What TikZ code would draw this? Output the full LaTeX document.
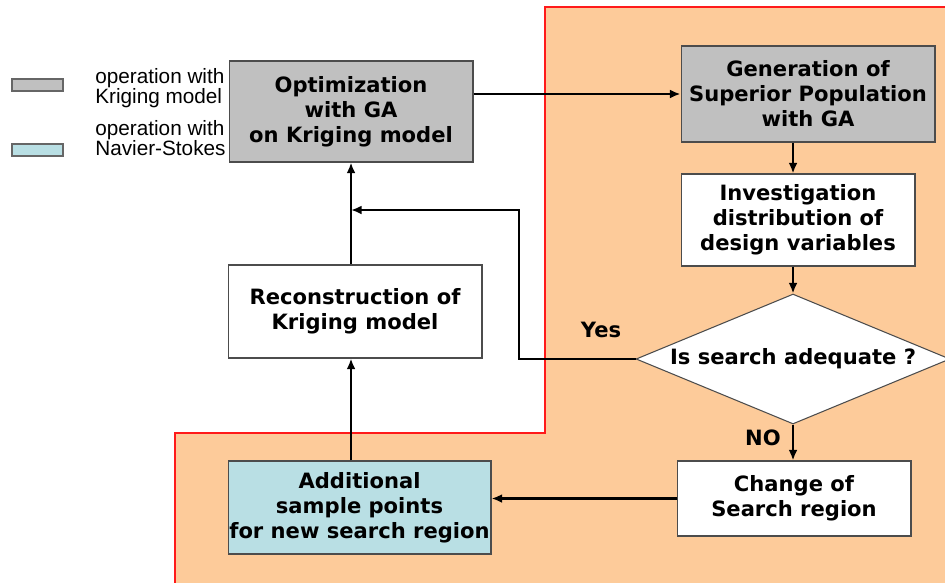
\documentclass[tikz,border=0pt]{standalone}
\usepackage{fontspec}
\setmainfont{DejaVu Sans}
\newfontfamily\legendFamily{Liberation Sans}
\usetikzlibrary{shapes.geometric}
\usetikzlibrary{arrows.meta}
\definecolor{regionFill}{HTML}{FDCB9A}
\definecolor{krigingGray}{HTML}{C0C0C0}
\definecolor{navierBlue}{HTML}{B9DFE4}
\definecolor{frameRed}{HTML}{FF1A1A}
\newcommand{\boxFont}{\fontsize{12}{14.2}\selectfont\bfseries}
\newcommand{\legendFont}{\legendFamily\fontsize{11.8}{11.5}\selectfont}

\begin{document}
\begin{tikzpicture}[%%
  x=0.02cm,y=-0.02cm,%%
  boxStyle/.style={draw=black!70,line width=0.6pt,rectangle,align=center,inner sep=0pt,font=\boxFont},%%
  krigingStyle/.style={boxStyle,fill=krigingGray},%%
  navierStyle/.style={boxStyle,fill=navierBlue},%%
  plainStyle/.style={boxStyle,fill=white},%%
  decisionStyle/.style={boxStyle,diamond,aspect=2.4,fill=white},%%
  arrowStyle/.style={-{Latex[length=6pt,width=5pt]},line width=1.3pt},%%
  legendStyle/.style={draw=black!60,line width=0.8pt},%%
  legendText/.style={anchor=west,align=left,inner sep=0pt,font=\legendFont},%%
  labelStyle/.style={inner sep=0pt,font=\boxFont}
]
\useasboundingbox (0,0) rectangle (945,582);
\clip (0,0) rectangle (945,582);
%%
%% The search region.
\fill[regionFill] (175,600) -- (175,433) -- (545,433) -- (545,7) -- (960,7) -- (960,600) -- cycle;
\draw[frameRed,line width=1.2pt] (175,600) -- (175,433) -- (545,433) -- (545,7) -- (960,7);
%%
%% The legend.
\draw[legendStyle,fill=krigingGray] (12,79) rectangle (63,91);
\draw[legendStyle,fill=navierBlue] (12,144) rectangle (63,156);
\node[legendText] (legendKriging) at (95,88) {operation with\\Kriging model};
\node[legendText] (legendNavier) at (95,138) {operation with\\Navier-Stokes};
%%
%% The steps.
\node[krigingStyle,minimum width=4.88cm,minimum height=2.02cm] (opt) at (351,111.5) {Optimization\\with GA\\on Kriging model};
\node[krigingStyle,minimum width=5.08cm,minimum height=1.92cm] (gen) at (808,94) {Generation of\\Superior Population\\with GA};
\node[plainStyle,minimum width=4.68cm,minimum height=1.84cm] (inv) at (798,220) {Investigation\\distribution of\\design variables};
\node[decisionStyle,minimum width=6.28cm,minimum height=2.6cm] (dec) at (793,359) {Is search adequate ?};
\node[plainStyle,minimum width=4.68cm,minimum height=1.5cm] (change) at (794,498.5) {Change of\\Search region};
\node[navierStyle,minimum width=5.26cm,minimum height=1.86cm] (add) at (359.5,507.5) {Additional\\sample points\\for new search region};
\node[plainStyle,minimum width=5.08cm,minimum height=1.86cm] (recon) at (355,311.5) {Reconstruction of\\Kriging model};
%%
%% Some special points.
\coordinate (yesCorner) at (519,359);
\coordinate (merge) at (351,210);
%%
%% The connectors.
\draw[arrowStyle] (opt.east |- gen.west) -- (gen.west);
\draw[arrowStyle] (gen.south -| dec.north) -- (inv.north -| dec.north);
\draw[arrowStyle] (inv.south -| dec.north) -- (dec.north);
\draw[arrowStyle] (dec.south) -- (change.north -| dec.south);
\draw[arrowStyle] (dec.west) -- (yesCorner) |- (merge);
\draw[arrowStyle] (change.west) -- (add.east |- change.west);
\draw[arrowStyle] (add.north -| opt.south) -- (recon.south -| opt.south);
\draw[arrowStyle] (recon.north -| opt.south) -- (opt.south);
%%
%% The answers.
\node[labelStyle] (yes) at (601,330) {Yes};
\node[labelStyle] (no) at (763,438) {NO};
\end{tikzpicture}
\end{document}
